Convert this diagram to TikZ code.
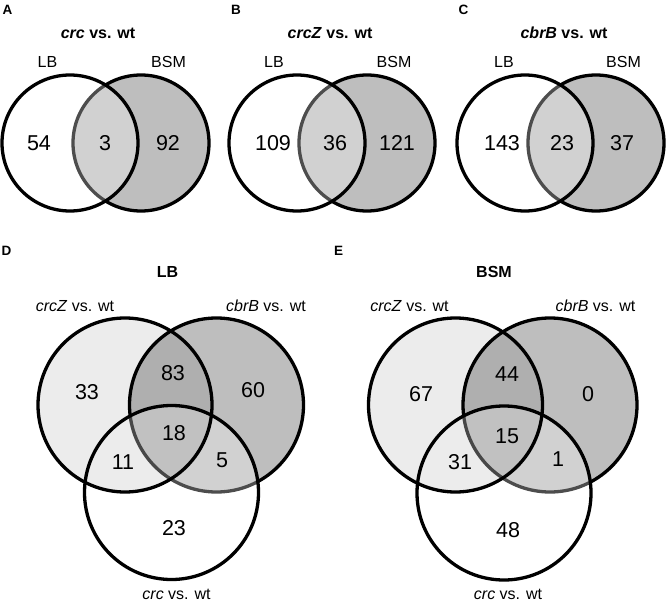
\documentclass[tikz,border=0pt]{standalone}
\usepackage{fontspec}
\setmainfont{Liberation Sans}
\definecolor{setgray}{RGB}{190,190,190}

\begin{document}
\begin{tikzpicture}[x=1pt,y=-1pt,
 num/.style={font=\fontsize{21.5}{24}\selectfont},
 lab/.style={font=\fontsize{16}{19}\selectfont},
 ttl/.style={font=\bfseries\fontsize{16}{19}\selectfont},
 pnl/.style={font=\bfseries\fontsize{13.5}{16}\selectfont},
 ring/.style={line width=3.3pt},
 dark/.style={ring,fill=setgray},
 veil/.style={ring,fill=white,fill opacity=0.3},
 tint/.style={ring,fill=black,fill opacity=0.075}]
 \useasboundingbox (0,0) rectangle (666,601);
 \draw[dark](141,143) circle[radius=68pt];
 \draw[veil](70,143) circle[radius=68pt];
 \draw[dark](367,143) circle[radius=68pt];
 \draw[veil](297,143) circle[radius=68pt];
 \draw[dark](596,143) circle[radius=68pt];
 \draw[veil](525,143) circle[radius=68pt];
 \node[pnl](pA) at (7.5,9.5){A};
 \node[pnl](pB) at (236,9.5){B};
 \node[pnl](pC) at (463.5,9.5){C};
 \node[ttl](tA) at (98,33){\textit{crc} vs. wt};
 \node[ttl](tB) at (330,33){\textit{crcZ} vs. wt};
 \node[ttl](tC) at (564,33){\textit{cbrB} vs. wt};
 \node[lab](aLB) at (47.5,62){LB};
 \node[lab](aBSM) at (168.5,62){BSM};
 \node[lab](bLB) at (274,62){LB};
 \node[lab](bBSM) at (394,62){BSM};
 \node[lab](cLB) at (504,62){LB};
 \node[lab](cBSM) at (623.5,62){BSM};
 \node[num](a1) at (39,143){54};
 \node[num](a2) at (105,143){3};
 \node[num](a3) at (168,143){92};
 \node[num](b1) at (273,143){109};
 \node[num](b2) at (335,143){36};
 \node[num](b3) at (397,143){121};
 \node[num](c1) at (502,143){143};
 \node[num](c2) at (562,143){23};
 \node[num](c3) at (622,143){37};
 \draw[dark](216.5,405) circle[radius=87pt];
 \draw[veil](171.5,492.5) circle[radius=87pt];
 \draw[tint](125,405) circle[radius=87pt];
 \draw[dark](550,405) circle[radius=87pt];
 \draw[veil](504,493) circle[radius=87pt];
 \draw[tint](455.5,405) circle[radius=87pt];
 \node[pnl](pD) at (6.5,251){D};
 \node[pnl](pE) at (338.5,251){E};
 \node[ttl](tD) at (167.5,272){LB};
 \node[ttl](tE) at (494,272){BSM};
 \node[lab](dZ) at (75,306){\textit{crcZ} vs. wt};
 \node[lab](dB) at (266,306){\textit{cbrB} vs. wt};
 \node[lab](dC) at (176.5,594){\textit{crc} vs. wt};
 \node[lab](eZ) at (409.5,306){\textit{crcZ} vs. wt};
 \node[lab](eB) at (595.5,306){\textit{cbrB} vs. wt};
 \node[lab](eC) at (508,594){\textit{crc} vs. wt};
 \node[num](d1) at (87,392){33};
 \node[num](d2) at (173,373){83};
 \node[num](d3) at (253,390){60};
 \node[num](d4) at (174,433){18};
 \node[num](d5) at (123,462){11};
 \node[num](d6) at (222,460){5};
 \node[num](d7) at (174,528){23};
 \node[num](e1) at (421,394){67};
 \node[num](e2) at (507,374){44};
 \node[num](e3) at (588,394){0};
 \node[num](e4) at (507,436){15};
 \node[num](e5) at (460,462){31};
 \node[num](e6) at (558,459){1};
 \node[num](e7) at (508,530){48};
\end{tikzpicture}
\end{document}
